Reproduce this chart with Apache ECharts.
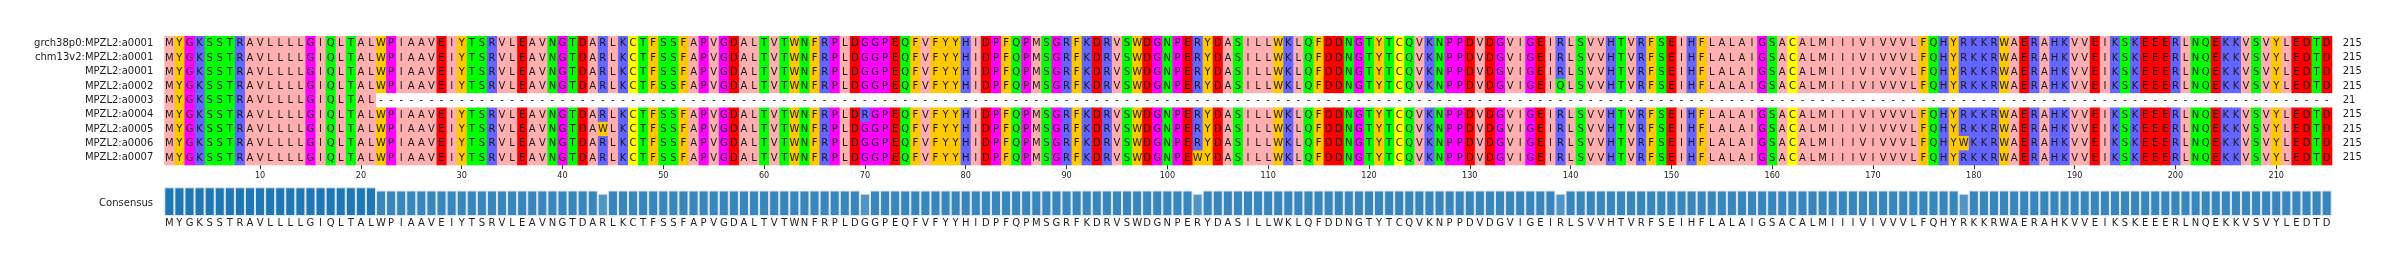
<!DOCTYPE html>
<html><head><meta charset="utf-8">
<script src="https://cdn.jsdelivr.net/npm/echarts@6/dist/echarts.min.js"></script>
<style>html,body{margin:0;padding:0;background:#fff}#c{width:2396px;height:265px}</style>
</head><body><div id="c"></div>
<script>
// ---- data ----
const seqNames = [
  'grch38p0:MPZL2:a0001','chm13v2:MPZL2:a0001','MPZL2:a0001','MPZL2:a0002','MPZL2:a0003',
  'MPZL2:a0004','MPZL2:a0005','MPZL2:a0006','MPZL2:a0007'
];
const refChunks = ['MYGKSSTRAV','LLLLGIQLTA','LWPIAAVEIY','TSRVLEAVNG','TDARLKCTFS','SFAPVGDALT',
  'VTWNFRPLDG','GPEQFVFYYH','IDPFQPMSGR','FKDRVSWDGN','PERYDASILL','WKLQFDDNGT','YTCQVKNPPD',
  'VDGVIGEIRL','SVVHTVRFSE','IHFLALAIGS','ACALMIIIVI','VVVLFQHYRK','KRWAERAHKV','VEIKSKEEER',
  'LNQEKKVSVY','LEDTD'];
const seqRef = refChunks.join('');
const seqA0002 = refChunks.slice(0,13).join('') + 'VDGVIGEIQL' + refChunks.slice(14).join('');
const seqA0003 = 'MYGKSSTRAVLLLLGIQLTAL'.padEnd(215, '-');
const seqA0004 = refChunks.slice(0,6).join('') + 'VTWNFRPLDR' + refChunks.slice(7).join('');
const seqA0005 = refChunks.slice(0,4).join('') + 'TDAWLKCTFS' + refChunks.slice(5).join('');
const seqA0006 = refChunks.slice(0,17).join('') + 'VVVLFQHYWK' + refChunks.slice(18).join('');
const seqA0007 = refChunks.slice(0,10).join('') + 'PEWYDASILL' + refChunks.slice(11).join('');
const sequences = [seqRef, seqRef, seqRef, seqA0002, seqA0003, seqA0004, seqA0005, seqA0006, seqA0007];
const seqLengths = [215,215,215,215,21,215,215,215,215];
const tickStep = 10;

// Zappo colour scheme
const residueColors = {
  A:'#ffafaf',V:'#ffafaf',L:'#ffafaf',I:'#ffafaf',M:'#ffafaf',
  F:'#ffc800',W:'#ffc800',Y:'#ffc800',
  K:'#6464ff',R:'#6464ff',H:'#6464ff',
  D:'#ff0000',E:'#ff0000',
  S:'#00ff00',T:'#00ff00',N:'#00ff00',Q:'#00ff00',
  P:'#ff00ff',G:'#ff00ff',
  C:'#ffff00','-':'#ffffff'
};

const nCols = seqRef.length;
const positions = [];
for (let i = 1; i <= nCols; i++) positions.push(String(i));

const cells = [];
sequences.forEach((s, r) => { for (let c = 0; c < nCols; c++) cells.push([c, r]); });

// consensus residue & identity per column (derived from the alignment)
const consensusChar = [], consensusFrac = [];
for (let c = 0; c < nCols; c++) {
  const cnt = {};
  sequences.forEach(s => { const ch = s[c]; if (ch !== '-') cnt[ch] = (cnt[ch]||0) + 1; });
  let best = '-', bn = 0;
  Object.keys(cnt).forEach(k => { if (cnt[k] > bn) { bn = cnt[k]; best = k; } });
  consensusChar.push(best);
  consensusFrac.push(bn / sequences.length);
}
function blend(f) {
  const base = [31,119,180];
  const c = base.map(v => Math.round(v * f + 255 * (1 - f)));
  return 'rgb(' + c.join(',') + ')';
}

const FONT = '"DejaVu Sans", "Liberation Sans", sans-serif';
const tickShow = (i) => (i + 1) % tickStep === 0;

const chart = echarts.init(document.getElementById('c'), null, {renderer: 'canvas'});
chart.setOption({
  animation: false,
  backgroundColor: '#fff',
  grid: [
    {left: 164.3, width: 2167.4, top: 36, height: 128.7},
    {left: 164.3, width: 2167.4, top: 187.3, height: 28.7}
  ],
  xAxis: [
    {type: 'category', gridIndex: 0, data: positions, position: 'bottom',
     axisLine: {show: false},
     axisTick: {show: true, alignWithLabel: true, interval: tickShow, length: 4.5, lineStyle: {color: '#333', width: 1}},
     axisLabel: {interval: tickShow, fontSize: 9, color: '#222', margin: 6.5, fontFamily: '"DejaVu Sans Condensed", "DejaVu Sans", sans-serif'},
     splitLine: {show: false}},
    {type: 'category', gridIndex: 1, data: positions,
     axisLine: {show: false}, axisTick: {show: false},
     axisLabel: {interval: 0, fontSize: 10, color: '#222', margin: 2, fontFamily: FONT,
                 formatter: (v, i) => consensusChar[i]},
     splitLine: {show: false}}
  ],
  yAxis: [
    {type: 'category', gridIndex: 0, data: seqNames, inverse: true,
     axisLine: {show: false}, axisTick: {show: false},
     axisLabel: {fontSize: 10, color: '#222', margin: 11, fontFamily: FONT}},
    {type: 'category', gridIndex: 0, data: seqNames, inverse: true, position: 'right',
     axisLine: {show: false}, axisTick: {show: false},
     axisLabel: {fontSize: 10, color: '#222', margin: 11, fontFamily: FONT,
                 formatter: (v, i) => String(seqLengths[i])}},
    {type: 'value', gridIndex: 1, min: 0, max: 1,
     axisLine: {show: false}, axisTick: {show: false}, axisLabel: {show: false}, splitLine: {show: false}}
  ],
  graphic: [
    {type: 'text', x: 153, y: 203, style: {text: 'Consensus', font: '10px ' + FONT, fill: '#222', align: 'right', verticalAlign: 'middle'}}
  ],
  series: [
    {
      type: 'custom', xAxisIndex: 0, yAxisIndex: 0, silent: true, clip: false,
      data: cells, encode: {x: 0, y: 1},
      renderItem: function (params, api) {
        const ci = api.value(0), ri = api.value(1);
        const ch = sequences[ri][ci];
        const p = api.coord([ci, ri]);
        const s = api.size([1, 1]);
        return {
          type: 'group',
          children: [
            {type: 'rect', shape: {x: p[0] - s[0] / 2, y: p[1] - s[1] / 2, width: s[0] + 0.6, height: s[1] + 0.6},
             style: {fill: residueColors[ch] || '#ffffff'}},
            {type: 'text', x: p[0], y: p[1] + 0.5,
             style: {text: ch, fill: '#1a1a1a', font: '10px ' + FONT, align: 'center', verticalAlign: 'middle'}}
          ]
        };
      }
    },
    {
      type: 'bar', xAxisIndex: 1, yAxisIndex: 2, silent: true,
      barCategoryGap: '0%',
      data: consensusFrac.map(f => ({value: f, itemStyle: {color: blend(f)}})),
      itemStyle: {borderColor: '#dbe8f4', borderWidth: 1}
    }
  ]
});
</script>
</body></html>
